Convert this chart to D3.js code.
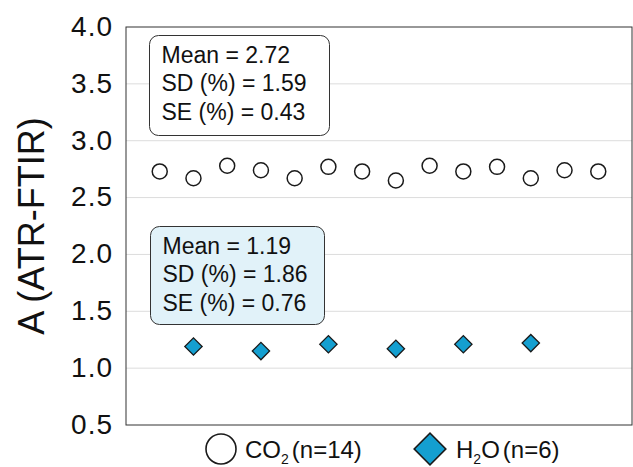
<!DOCTYPE html>
<html>
<head>
<meta charset="utf-8">
<script src="https://cdn.jsdelivr.net/npm/d3@7"></script>
<style>
  html, body { margin: 0; padding: 0; background: #fff; }
  svg { display: block; font-family: "Liberation Sans", Arial, sans-serif; }
</style>
</head>
<body>
<svg id="chart" width="633" height="467"></svg>
<script>
// Absorbance readings per sample (index 1..14)
const co2Index = [1, 2, 3, 4, 5, 6, 7, 8, 9, 10, 11, 12, 13, 14];
const co2Values = [2.73, 2.67, 2.78, 2.74, 2.67, 2.77, 2.73, 2.65, 2.78, 2.73, 2.77, 2.67, 2.74, 2.73];
const h2oIndex = [2, 4, 6, 8, 10, 12];
const h2oValues = [1.19, 1.15, 1.21, 1.17, 1.21, 1.22];
const yTicks = [0.5, 1.0, 1.5, 2.0, 2.5, 3.0, 3.5, 4.0];
const co2Stats = ["Mean = 2.72", "SD (%) = 1.59", "SE (%) = 0.43"];
const h2oStats = ["Mean = 1.19", "SD (%) = 1.86", "SE (%) = 0.76"];

const svg = d3.select("#chart");
const margin = { left: 126, right: 1, top: 27, bottom: 42 };
const W = 633, H = 467;

const x = d3.scaleLinear().domain([0, 15]).range([margin.left, W - margin.right]);
const y = d3.scaleLinear().domain([0.5, 4.0]).range([H - margin.bottom, margin.top]);

// horizontal gridlines
svg.append("g")
  .selectAll("line")
  .data(yTicks.slice(1, -1))
  .join("line")
  .attr("x1", x(0)).attr("x2", x(15))
  .attr("y1", d => y(d)).attr("y2", d => y(d))
  .attr("stroke", "#dcdcdc").attr("stroke-width", 1);

// y axis labels
const yAxis = d3.axisLeft(y).tickValues(yTicks).tickFormat(d3.format(".1f")).tickSize(0).tickPadding(13);
const gy = svg.append("g").attr("transform", `translate(${x(0)},0)`).call(yAxis);
gy.select(".domain").remove();
gy.selectAll("text")
  .attr("font-size", 28).attr("fill", "#111")
  .attr("font-family", "Liberation Sans, Arial, sans-serif")
  .attr("letter-spacing", 1)
  .attr("dy", "0.3em");

// frame
svg.append("rect")
  .attr("x", x(0)).attr("y", y(4.0))
  .attr("width", x(15) - x(0)).attr("height", y(0.5) - y(4.0))
  .attr("fill", "none").attr("stroke", "#333").attr("stroke-width", 1);

// y title
svg.append("text")
  .attr("transform", `translate(44,${(y(4.0) + y(0.5)) / 2}) rotate(-90)`)
  .attr("text-anchor", "middle")
  .attr("font-size", 36).attr("fill", "#111")
  .text("A (ATR-FTIR)");

// statistic boxes
function statBox(lines, bx, by, bw, bh, fill) {
  const g = svg.append("g");
  g.append("rect")
    .attr("x", bx).attr("y", by).attr("width", bw).attr("height", bh)
    .attr("rx", 9).attr("ry", 9)
    .attr("fill", fill).attr("stroke", "#333").attr("stroke-width", 1);
  g.selectAll("text").data(lines).join("text")
    .attr("x", bx + 12).attr("y", (d, i) => by + 27 + i * 28.5)
    .attr("font-size", 23).attr("fill", "#111")
    .text(d => d);
}
statBox(co2Stats, 149.5, 35.5, 180, 100, "#fff");
statBox(h2oStats, 150.5, 226.5, 174, 98, "#e1f2f9");

// CO2 points
svg.append("g").selectAll("circle")
  .data(co2Values)
  .join("circle")
  .attr("cx", (d, i) => x(co2Index[i]))
  .attr("cy", d => y(d))
  .attr("r", 7.5)
  .attr("fill", "#fff").attr("stroke", "#1a1a1a").attr("stroke-width", 1.5);

// H2O points
const diamond = d3.symbol().type(d3.symbolSquare).size(150);
svg.append("g").selectAll("path")
  .data(h2oValues)
  .join("path")
  .attr("d", diamond)
  .attr("transform", (d, i) => `translate(${x(h2oIndex[i])},${y(d)}) rotate(45)`)
  .attr("fill", "#149fd0").attr("stroke", "#1a1a1a").attr("stroke-width", 1.3);

// legend
const lg = svg.append("g");
lg.append("circle").attr("cx", 221).attr("cy", 449).attr("r", 15)
  .attr("fill", "#fff").attr("stroke", "#1a1a1a").attr("stroke-width", 1.6);
const t1 = lg.append("text").attr("x", 245).attr("y", 458).attr("font-size", 24).attr("fill", "#111");
t1.append("tspan").text("CO");
t1.append("tspan").attr("font-size", 14).attr("dy", 6).text("2");
t1.append("tspan").attr("dy", -6).attr("dx", 3).text("(n=14)");

lg.append("path")
  .attr("d", d3.symbol().type(d3.symbolSquare).size(500))
  .attr("transform", "translate(430,449) rotate(45)")
  .attr("fill", "#149fd0").attr("stroke", "#1a1a1a").attr("stroke-width", 1.6);
const t2 = lg.append("text").attr("x", 456).attr("y", 458).attr("font-size", 24).attr("fill", "#111");
t2.append("tspan").text("H");
t2.append("tspan").attr("font-size", 14).attr("dy", 6).text("2");
t2.append("tspan").attr("dy", -6).text("O");
t2.append("tspan").attr("dx", 3).text("(n=6)");
</script>
</body>
</html>
